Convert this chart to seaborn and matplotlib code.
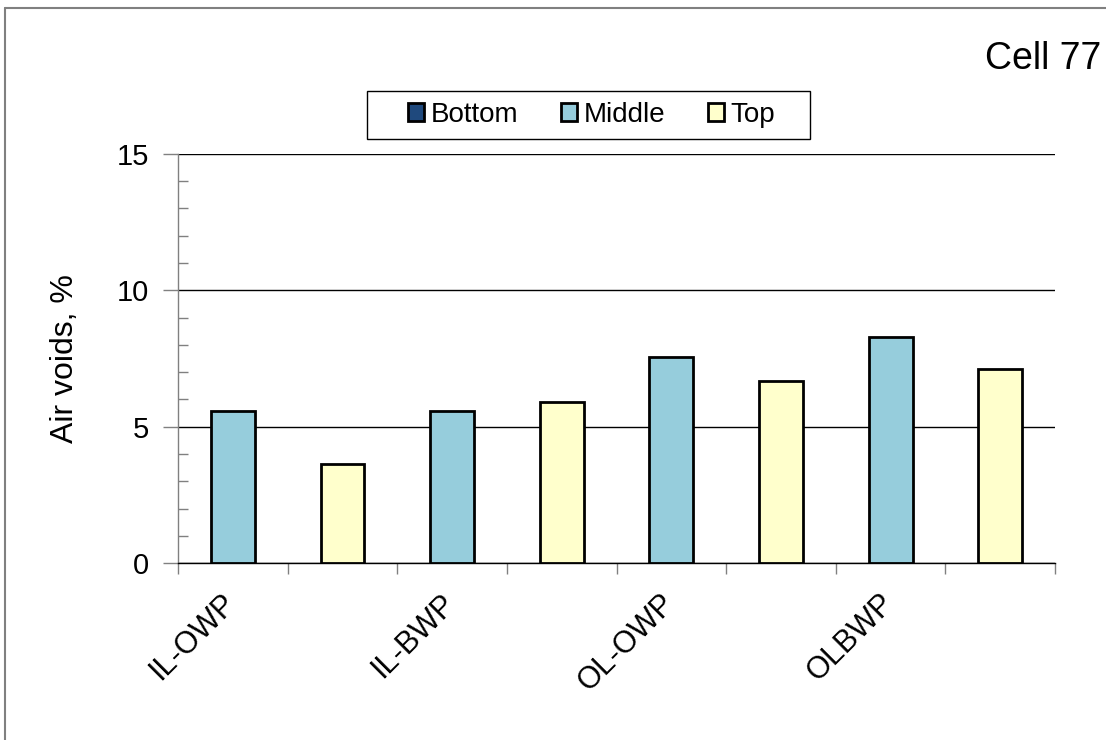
import numpy as np
import pandas as pd
import matplotlib
matplotlib.use("Agg")
import matplotlib.pyplot as plt
import matplotlib.transforms as mtransforms
from matplotlib.patches import Patch, Rectangle
from matplotlib.lines import Line2D
from matplotlib.ticker import MultipleLocator, FixedLocator
import seaborn as sns

# Values (air voids, %)
groups = ["IL-OWP", "IL-BWP", "OL-OWP", "OLBWP"]
middle = [5.57, 5.59, 7.56, 8.28]
top = [3.63, 5.90, 6.68, 7.10]
layers = ["Bottom", "Middle", "Top"]
colors = {"Bottom": "#1F497D", "Middle": "#96CDDC", "Top": "#FFFFCC"}

# One slot per bar: Middle then Top for each location
rows = []
for g, m, t in zip(groups, middle, top):
    rows.append({"slot": g + " M", "layer": "Middle", "value": m})
    rows.append({"slot": g + " T", "layer": "Top", "value": t})
df = pd.DataFrame(rows)
order = df["slot"].tolist()

sns.set_style("white")
plt.rcParams["font.family"] = ["Liberation Sans", "DejaVu Sans"]
plt.rcParams["text.color"] = "black"
plt.rcParams["axes.labelcolor"] = "black"
plt.rcParams["xtick.color"] = "black"
plt.rcParams["ytick.color"] = "black"

fig = plt.figure(figsize=(11.06, 7.4), dpi=100)
ax = fig.add_axes([0.161, 0.239, 0.793, 0.553])

sns.barplot(data=df, x="slot", y="value", hue="layer", order=order,
            palette=colors, saturation=1, dodge=False, width=0.4,
            edgecolor="black", linewidth=2, legend=False, ax=ax, zorder=3)

ax.set_ylim(0, 15)
ax.set_xlim(-0.5, len(order) - 0.5)
ax.yaxis.set_major_locator(MultipleLocator(5))
ax.yaxis.set_minor_locator(MultipleLocator(1))
ax.grid(axis="y", which="major", color="black", linewidth=1, zorder=0)
ax.tick_params(axis="y", which="major", left=True, direction="out", length=11,
               width=1, color="#808080", labelsize=21, pad=10)
ax.tick_params(axis="y", which="minor", left=True, direction="in", length=7,
               width=1, color="#808080")

# category boundaries get the tick marks, labels sit under every other bar
ax.xaxis.set_minor_locator(FixedLocator(np.arange(-0.5, len(order), 1.0)))
ax.set_xticks(range(0, len(order), 2))
ax.set_xticklabels(groups, rotation=45, ha="right", rotation_mode="anchor",
                   fontsize=22)
ax.tick_params(axis="x", which="major", bottom=True, length=0, pad=18)
ax.tick_params(axis="x", which="minor", bottom=True, direction="out", length=8,
               width=1, color="#808080")
shift = mtransforms.ScaledTranslation(-0.12, 0, fig.dpi_scale_trans)
for lbl in ax.get_xticklabels():
    lbl.set_transform(lbl.get_transform() + shift)

for s in ["top", "right"]:
    ax.spines[s].set_visible(False)
ax.spines["left"].set_color("#808080")
ax.spines["bottom"].set_color("black")
ax.spines["left"].set_linewidth(1)
ax.spines["bottom"].set_linewidth(1)

ax.set_xlabel("")
ax.set_ylabel("Air voids, %", fontsize=23, labelpad=26)

handles = [Patch(facecolor=colors[l], edgecolor="black", linewidth=2) for l in layers]
leg = fig.legend(handles, layers, loc="center", bbox_to_anchor=(0.535, 0.845),
                 ncol=3, fontsize=20, frameon=False, handlelength=0.58,
                 handleheight=0.58, handletextpad=0.22, columnspacing=1.55)
fig.patches.append(Rectangle((0.332, 0.812), 0.4005, 0.0649, transform=fig.transFigure,
                             fill=False, edgecolor="black", linewidth=1))

fig.text(0.943, 0.92, "Cell 77", fontsize=27, ha="center", va="center")

# outer chart frame (only top and left edges show in the reference)
fig.add_artist(Line2D([0.0045, 0.0045], [0, 0.989], transform=fig.transFigure,
                      color="#808080", linewidth=1.5))
fig.add_artist(Line2D([0.0045, 1], [0.989, 0.989], transform=fig.transFigure,
                      color="#808080", linewidth=1.5))

fig.savefig("out.png", dpi=100)
